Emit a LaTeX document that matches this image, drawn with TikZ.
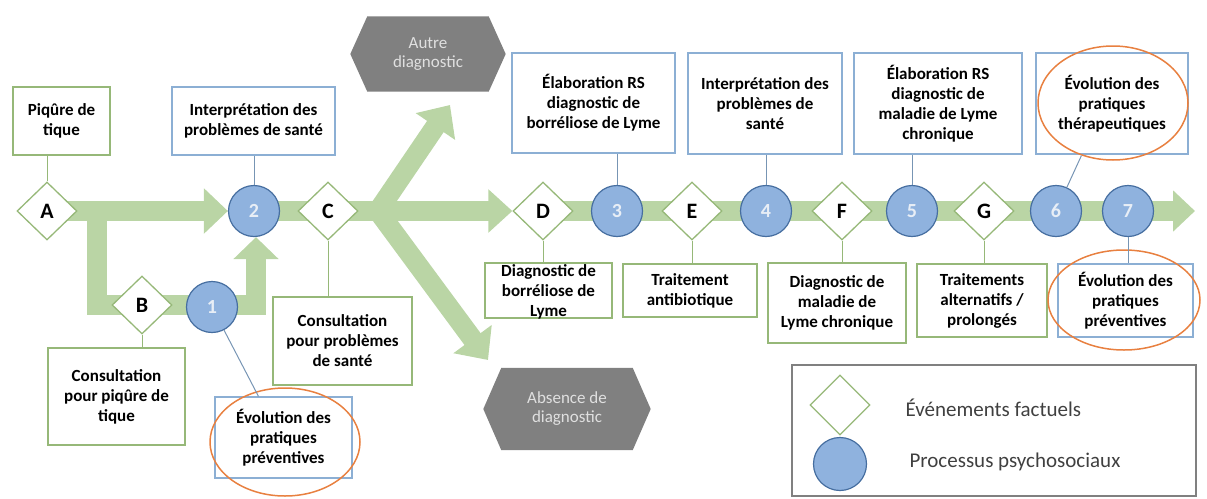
\documentclass[tikz,border=0pt]{standalone}
\usepackage{fontspec}
\setmainfont{Carlito}
\usetikzlibrary{arrows.meta,shapes.geometric,backgrounds}

\definecolor{band}{RGB}{186,213,165}
\definecolor{evgreen}{RGB}{150,184,120}
\definecolor{prblue}{RGB}{143,178,222}
\definecolor{prborder}{RGB}{70,110,160}
\definecolor{boxblue}{RGB}{140,175,212}
\definecolor{orng}{RGB}{232,128,64}
\definecolor{hexgrey}{RGB}{128,128,128}
\definecolor{hextext}{RGB}{224,224,224}
\definecolor{legtext}{RGB}{64,64,64}
\definecolor{legbord}{RGB}{128,128,128}
\definecolor{numtext}{RGB}{232,238,246}

\begin{document}
\begin{tikzpicture}[x=1pt,y=-1pt,
  event/.style={diamond, draw=evgreen, line width=1.3pt, fill=white, minimum width=60pt, minimum height=58pt, inner sep=0pt, font=\fontsize{22}{24}\selectfont\bfseries},
  proc/.style={circle, draw=prborder, line width=1.2pt, fill=prblue, minimum size=51pt, inner sep=0pt, text=numtext, font=\fontsize{20}{22}\selectfont\bfseries},
  gbox/.style={draw=evgreen, line width=1.2pt, fill=white, inner sep=2pt, align=center, font=\fontsize{17}{20}\selectfont\bfseries},
  bbox/.style={gbox, draw=boxblue},
  hexa/.style={inner sep=0pt, text=hextext, align=center, font=\fontsize{17}{19}\selectfont},
  orel/.style={ellipse, draw=orng, line width=1.5pt, inner sep=0pt},
  bandline/.style={draw=band, line width=20pt},
  gline/.style={draw=evgreen, line width=1pt},
  bline/.style={draw=boxblue!85!black, line width=1pt},
  legtxt/.style={anchor=west, text=legtext, font=\fontsize{21}{24}\selectfont},
]
\useasboundingbox (0,0) rectangle (1207,498);

% ---- events (diamonds) ----
\node[event] (A) at (47,211) {A};
\node[event] (B) at (142,305) {B};
\node[event] (C) at (328,211) {C};
\node[event] (D) at (543,211) {D};
\node[event] (E) at (692,211) {E};
\node[event] (F) at (842,211) {F};
\node[event] (G) at (984,211) {G};

% ---- processes (circles) ----
\node[proc] (c1) at (212,307) {1};
\node[proc] (c2) at (254,211) {2};
\node[proc] (c3) at (617,211) {3};
\node[proc] (c4) at (766,211) {4};
\node[proc] (c5) at (912,211) {5};
\node[proc] (c6) at (1056,211) {6};
\node[proc] (c7) at (1128,211) {7};

% ---- band coordinates ----
\coordinate (split) at (97,211);
\coordinate (corner1) at (97,305);
\coordinate (corner2) at (256,305);
\coordinate (J) at (378,211);
\coordinate (upTip) at (450,105);
\coordinate (downTip) at (488,360);
\coordinate (endTip) at (1195,211);

% ---- hexagons ----
\node[hexa, minimum width=121pt, minimum height=75pt] (autre) at (428,54) {Autre\\diagnostic};
\node[hexa, minimum width=131pt, minimum height=82pt] (absence) at (567,409) {Absence de\\diagnostic};

% ---- boxes ----
\node[gbox, minimum width=97pt, minimum height=68pt] (piq) at (61.5,121) {Piqûre de\\tique};
\node[bbox, minimum width=163pt, minimum height=68pt] (interp1) at (253.5,121) {Interprétation des\\problèmes de santé};
\node[gbox, minimum width=137pt, minimum height=97pt] (consB) at (116.5,396.5) {Consultation\\pour piqûre de\\tique};
\node[bbox, minimum width=137pt, minimum height=81pt] (evol1) at (283.5,437.5) {Évolution des\\pratiques\\préventives};
\node[gbox, minimum width=139pt, minimum height=88pt] (consC) at (342.5,341) {Consultation\\pour problèmes\\de santé};
\node[bbox, minimum width=163pt, minimum height=100pt] (elab1) at (593.5,103) {Élaboration RS\\diagnostic de\\borréliose de Lyme};
\node[bbox, minimum width=154pt, minimum height=101pt] (interp2) at (765,103.5) {Interprétation des\\problèmes de\\santé};
\node[bbox, minimum width=168pt, minimum height=101pt] (elab2) at (938,103.5) {Élaboration RS\\diagnostic de\\maladie de Lyme\\chronique};
\node[bbox, minimum width=152pt, minimum height=101pt] (evolT) at (1112,103.5) {Évolution des\\pratiques\\thérapeutiques};
\node[gbox, minimum width=127pt, minimum height=55pt] (diagD) at (548.5,290.5) {};
\node[align=center, inner sep=0pt, font=\fontsize{17}{20}\selectfont\bfseries] (diagDtxt) at (548.5,292) {Diagnostic de\\borréliose de\\Lyme};
\node[gbox, minimum width=134pt, minimum height=53pt] (trait) at (690,290.5) {Traitement\\antibiotique};
\node[gbox, minimum width=138pt, minimum height=80pt] (diagF) at (837,303) {Diagnostic de\\maladie de\\Lyme chronique};
\node[gbox, minimum width=130pt, minimum height=73pt] (traitG) at (982,300.5) {Traitements\\alternatifs /\\prolongés};
\node[bbox, minimum width=135pt, minimum height=73pt] (evolP) at (1125.5,300.5) {Évolution des\\pratiques\\préventives};

% ---- orange ellipses ----
\node[orel, minimum width=150pt, minimum height=108pt] (ell1) at (285,442) {};
\node[orel, minimum width=150pt, minimum height=114pt] (ellT) at (1113,103) {};
\node[orel, minimum width=152pt, minimum height=100pt] (ellP) at (1124,300) {};

% ---- legend ----
\node[draw=legbord, line width=1.3pt, minimum width=404pt, minimum height=131pt, inner sep=0pt] (legend) at (994,430.5) {};
\node[diamond, draw=evgreen, line width=1.3pt, fill=white, minimum width=60pt, minimum height=60pt, inner sep=0pt] (legD) at (840,405) {};
\node[circle, draw=prborder, line width=1.2pt, fill=prblue, minimum size=53pt, inner sep=0pt] (legC) at (840,464) {};
\node[legtxt] (legDt) at (902,408) {Événements factuels};
\node[legtxt] (legCt) at (906,462) {Processus psychosociaux};

% ---- connectors ----
\draw[gline] (A) -- (A |- piq.south);
\draw[gline] (B) -- (B |- consB.north);
\draw[gline] (C) -- (C |- consC.north);
\draw[gline] (D) -- (D |- diagD.north);
\draw[gline] (E) -- (E |- trait.north);
\draw[gline] (F) -- (F |- diagF.north);
\draw[gline] (G) -- (G |- traitG.north);
\draw[bline] (c2) -- (c2 |- interp1.south);
\draw[bline] (c3) -- (c3 |- elab1.south);
\draw[bline] (c4) -- (c4 |- interp2.south);
\draw[bline] (c5) -- (c5 |- elab2.south);
\draw[bline] (c6) -- (ellT.239);
\draw[bline] (c7) -- (c7 |- evolP.north);
\draw[bline] (c1) -- ([xshift=-25pt]evol1.north);

% ---- background: bands and hexagon bodies ----
\begin{scope}[on background layer]
  \fill[hexgrey] ([xshift=-17pt]autre.west) -- (autre.north west) -- (autre.north east)
     -- ([xshift=17pt]autre.east) -- (autre.south east) -- (autre.south west) -- cycle;
  \fill[hexgrey] ([xshift=-18pt]absence.west) -- (absence.north west) -- (absence.north east)
     -- ([xshift=18pt]absence.east) -- (absence.south east) -- (absence.south west) -- cycle;
  \draw[bandline, -{Triangle[width=44pt,length=24pt]}] (A.center) -- (c2.west);
  \draw[bandline, line join=miter, -{Triangle[width=44pt,length=22pt]}] (split) -- (corner1) -- (corner2) -- (corner2 |- c2.south);
  \draw[bandline] (c2.center) -- (J);
  \draw[bandline, -{Triangle[width=42pt,length=24pt]}] (J) -- (D.west);
  \draw[bandline, -{Triangle[width=46pt,length=26pt]}] (J) -- (upTip);
  \draw[bandline, -{Triangle[width=46pt,length=26pt]}] (J) -- (downTip);
  \draw[bandline, -{Triangle[width=40pt,length=22pt]}] (D.center) -- (endTip);
\end{scope}
\end{tikzpicture}
\end{document}
